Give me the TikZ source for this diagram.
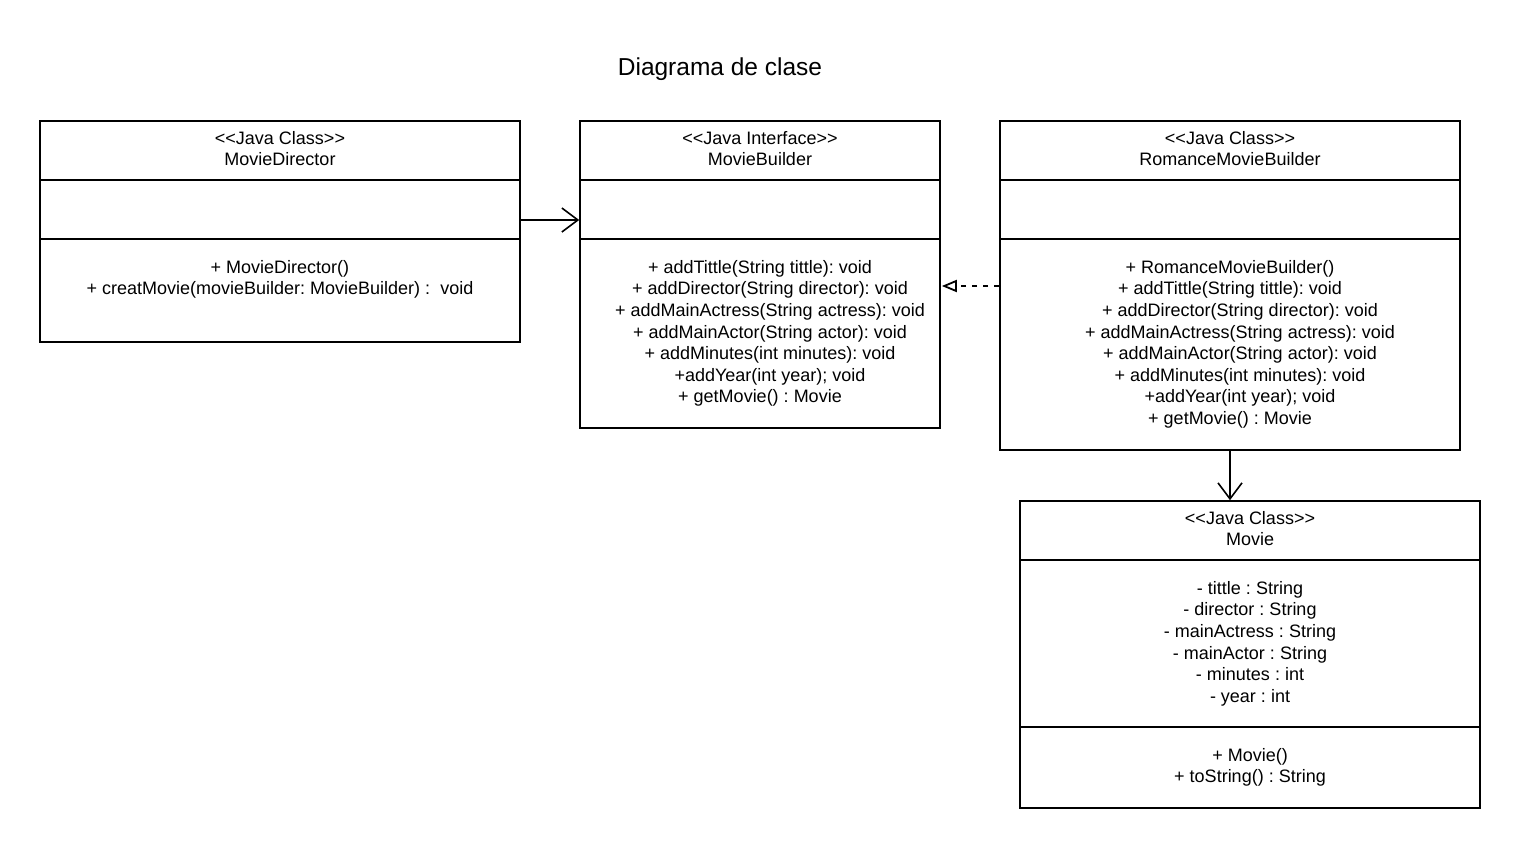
\documentclass[tikz,border=0pt]{standalone}
\usepackage{fontspec}
\setmainfont{Liberation Sans}[Ligatures=TeXOff]
\usetikzlibrary{arrows.meta}
\frenchspacing
\begin{document}
\begin{tikzpicture}[x=1pt,y=-1pt,
  classbox/.style={draw=black,line width=1.6pt,rectangle,inner sep=0pt,fill=white},
  divider/.style={draw=black,line width=1.6pt},
  txt/.style={anchor=north,inner sep=0pt,align=center,font=\fontsize{18}{21.6}\selectfont\frenchspacing,execute at begin node=\strut},
  assoc/.style={draw=black,line width=1.6pt,-{Straight Barb[length=16pt,width=24pt,line width=1.6pt]}},
  realize/.style={draw=black,line width=1.6pt,dash pattern=on 5pt off 6pt,-{Triangle[open,length=15pt,width=12pt,line width=1.8pt]}}]
\useasboundingbox (0,0) rectangle (1520,848);
\fill[white] (0,0) rectangle (1520,848);
\newcommand{\pad}{\hspace*{20pt}}

\node[inner sep=0pt,font=\fontsize{24.5}{29}\selectfont] (title) at (720,69) {Diagrama de clase};

% MovieDirector
\node[classbox,minimum width=480pt,minimum height=221pt] (md) at (280,231.5) {};
\draw[divider] (md.west |- 0,180) -- (md.east |- 0,180);
\draw[divider] (md.west |- 0,239) -- (md.east |- 0,239);
\node[txt] (mdh) at (280,131) {<<Java Class>>\\MovieDirector};
\node[txt] (mdo) at (280,260) {+ MovieDirector()\\+ creatMovie(movieBuilder: MovieBuilder) :\ \ void};

% MovieBuilder
\node[classbox,minimum width=360pt,minimum height=307pt] (mb) at (760,274.5) {};
\draw[divider] (mb.west |- 0,180) -- (mb.east |- 0,180);
\draw[divider] (mb.west |- 0,239) -- (mb.east |- 0,239);
\node[txt] (mbh) at (760,131) {<<Java Interface>>\\MovieBuilder};
\node[txt] (mbo) at (760,260) {+ addTittle(String tittle): void\\\pad+ addDirector(String director): void\\\pad+ addMainActress(String actress): void\\\pad+ addMainActor(String actor): void\\\pad+ addMinutes(int minutes): void\\\pad+addYear(int year); void\\+ getMovie() : Movie};

% RomanceMovieBuilder
\node[classbox,minimum width=460pt,minimum height=329pt] (rb) at (1230,285.5) {};
\draw[divider] (rb.west |- 0,180) -- (rb.east |- 0,180);
\draw[divider] (rb.west |- 0,239) -- (rb.east |- 0,239);
\node[txt] (rbh) at (1230,131) {<<Java Class>>\\RomanceMovieBuilder};
\node[txt] (rbo) at (1230,260) {+ RomanceMovieBuilder()\\+ addTittle(String tittle): void\\\pad+ addDirector(String director): void\\\pad+ addMainActress(String actress): void\\\pad+ addMainActor(String actor): void\\\pad+ addMinutes(int minutes): void\\\pad+addYear(int year); void\\+ getMovie() : Movie};

% Movie
\node[classbox,minimum width=460pt,minimum height=307pt] (mv) at (1250,654.5) {};
\draw[divider] (mv.west |- 0,560) -- (mv.east |- 0,560);
\draw[divider] (mv.west |- 0,727) -- (mv.east |- 0,727);
\node[txt] (mvh) at (1250,511) {<<Java Class>>\\Movie};
\node[txt] (mva) at (1250,581) {- tittle : String\\- director : String\\- mainActress : String\\- mainActor : String\\- minutes : int\\- year : int};
\node[txt] (mvo) at (1250,748) {+ Movie()\\+ toString() : String};

% connectors
\draw[assoc] (md.east |- 0,220) -- (mb.west |- 0,220);
\draw[realize] (rb.west |- 0,286) -- ([xshift=1pt]mb.east |- 0,286);
\draw[assoc] (rb.south) -- (mv.north -| rb.south);
\end{tikzpicture}
\end{document}
